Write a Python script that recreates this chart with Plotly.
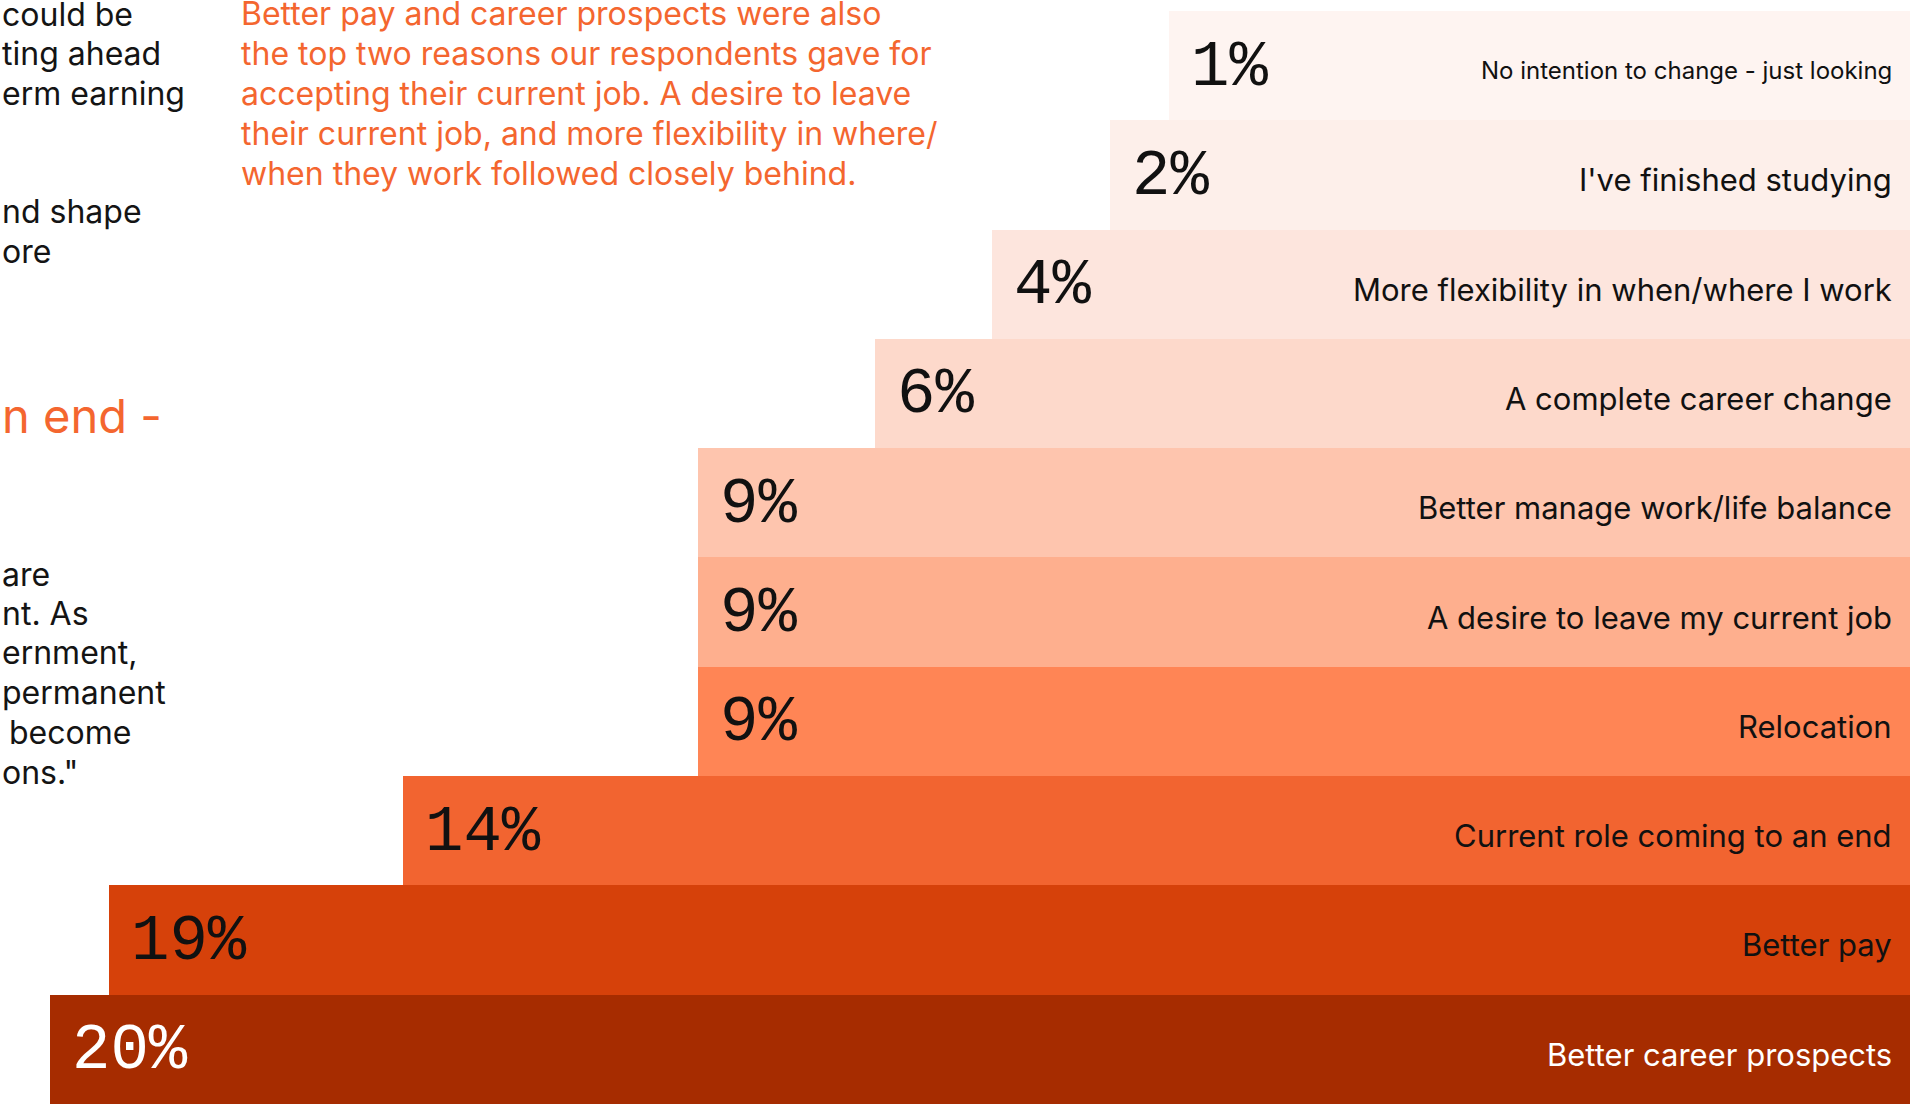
import plotly.graph_objects as go

# Reasons for looking for a new job, top row first
reasons = [
    "No intention to change - just looking",
    "I've finished studying",
    "More flexibility in when/where I work",
    "A complete career change",
    "Better manage work/life balance",
    "A desire to leave my current job",
    "Relocation",
    "Current role coming to an end",
    "Better pay",
    "Better career prospects",
]
shares = [1, 2, 4, 6, 9, 9, 9, 14, 19, 20]

bar_colors = [
    "#fef4f1", "#fdefea", "#fde5dd", "#fdd9cb", "#fec5ae",
    "#feaf8e", "#ff8555", "#f26430", "#d6410a", "#a62c00",
]
text_colors = ["#111111"] * 9 + ["#ffffff"]
# the longest reason is set a little smaller so it sits clear of its value
label_sizes = [24] + [31] * 9

W, H = 1910, 1105
ORANGE = "#f4662f"
INK = "#141414"
SANS = "Inter, Roboto, sans-serif"
MONO = "Liberation Mono, DejaVu Sans Mono, monospace"

# reversed linear axis: bars run from the value out past the right edge
x_left, x_right = 20.85, -11.58
bar_base = -12

fig = go.Figure()
fig.add_trace(go.Bar(
    orientation="h",
    y=reasons,
    x=[v - bar_base for v in shares],
    base=[bar_base] * len(shares),
    marker=dict(color=bar_colors, line=dict(width=0)),
    width=1,
    hoverinfo="skip",
))


def px(x):
    return x / W


def py(y):
    return 1 - y / H


annotations = []
for r, v, tc, fs in zip(reasons, shares, text_colors, label_sizes):
    annotations.append(dict(
        x=v, y=r, xref="x", yref="y", text=f"{v}%",
        xanchor="left", yanchor="middle", xshift=20, yshift=-2,
        showarrow=False, font=dict(family=MONO, size=64, color=tc),
    ))
    annotations.append(dict(
        x=px(1894), y=r, xref="paper", yref="y", text=r,
        xanchor="right", yanchor="middle", yshift=-5,
        showarrow=False,
        font=dict(family=SANS, size=fs, color=tc),
    ))

# surrounding article text (left column, running off the page edge)
left_lines = [
    ("could be", 0, 25), ("ting ahead", 0, 64), ("erm earning", 0, 104),
    ("nd shape", 0, 222), ("ore", 0, 262),
    ("are", 0, 585), ("nt. As", 0, 624), ("ernment,", 0, 663),
    ("permanent", 0, 703), ("become", 7, 743), ("ons.\"", 0, 783),
]
for txt, xl, base in left_lines:
    annotations.append(dict(
        x=px(xl), y=py(base + 11), xref="paper", yref="paper", text=txt,
        xanchor="left", yanchor="bottom", showarrow=False,
        font=dict(family=SANS, size=32, color=INK),
    ))

annotations.append(dict(
    x=0, y=py(432 + 14), xref="paper", yref="paper", text="n end -",
    xanchor="left", yanchor="bottom", showarrow=False,
    font=dict(family=SANS, size=47, color=ORANGE),
))

quote_lines = [
    "Better pay and career prospects were also",
    "the top two reasons our respondents gave for",
    "accepting their current job. A desire to leave",
    "their current job, and more flexibility in where/",
    "when they work followed closely behind.",
]
for i, txt in enumerate(quote_lines):
    annotations.append(dict(
        x=px(239), y=py(25 + 40 * i + 10), xref="paper", yref="paper", text=txt,
        xanchor="left", yanchor="bottom", showarrow=False,
        font=dict(family=SANS, size=32, color=ORANGE),
    ))

fig.update_layout(
    width=W, height=H,
    margin=dict(l=0, r=0, t=0, b=0),
    paper_bgcolor="#ffffff", plot_bgcolor="#ffffff",
    showlegend=False, bargap=0,
    xaxis=dict(range=[x_left, x_right], visible=False, fixedrange=True),
    yaxis=dict(type="category", range=[9.51, -0.6], visible=False, fixedrange=True),
    annotations=annotations,
)

fig.write_html("out.html", config={"displayModeBar": False})
